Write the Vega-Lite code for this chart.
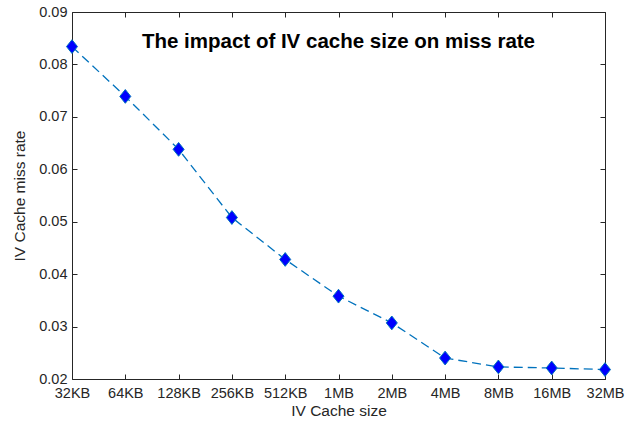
{
  "$schema": "https://vega.github.io/schema/vega-lite/v6.json",
  "width": 533,
  "height": 367,
  "autosize": "none",
  "padding": {"left": 72, "top": 12, "right": 33, "bottom": 42},
  "background": "white",
  "config": {
    "view": {"stroke": null},
    "font": "Liberation Sans",
    "axis": {
      "grid": false,
      "domainColor": "#262626",
      "domainWidth": 1,
      "tickColor": "#262626",
      "tickSize": -5,
      "labelColor": "#262626",
      "labelFont": "Liberation Sans",
      "labelFontSize": 14.5,
      "titleFont": "Liberation Sans",
      "titleFontSize": 15.5,
      "titleFontWeight": "normal",
      "titleColor": "#262626"
    }
  },
  "title": {
    "text": "The impact of IV cache size on miss rate",
    "anchor": "middle",
    "orient": "top",
    "offset": -48,
    "font": "Liberation Sans",
    "fontSize": 20.5,
    "fontWeight": "bold",
    "color": "#000000"
  },
  "data": {
    "values": [
      {"size": "32KB", "rate": 0.0834},
      {"size": "64KB", "rate": 0.0739},
      {"size": "128KB", "rate": 0.0638},
      {"size": "256KB", "rate": 0.0508},
      {"size": "512KB", "rate": 0.0428},
      {"size": "1MB", "rate": 0.0358},
      {"size": "2MB", "rate": 0.0307},
      {"size": "4MB", "rate": 0.0240},
      {"size": "8MB", "rate": 0.0223},
      {"size": "16MB", "rate": 0.0221},
      {"size": "32MB", "rate": 0.0218}
    ]
  },
  "resolve": {"axis": {"x": "independent", "y": "independent"}},
  "layer": [
    {
      "mark": {"type": "line", "color": "#0072BD", "strokeDash": [9, 5], "strokeWidth": 1.3},
      "encoding": {
        "x": {
          "field": "size", "type": "ordinal", "sort": null,
          "scale": {"type": "point", "padding": 0},
          "axis": {"title": "IV Cache size", "labelAngle": 0, "labelPadding": 12, "titlePadding": 4}
        },
        "y": {
          "field": "rate", "type": "quantitative",
          "scale": {"domain": [0.02, 0.09], "nice": false, "zero": false},
          "axis": {"title": "IV Cache miss rate", "values": [0.02, 0.03, 0.04, 0.05, 0.06, 0.07, 0.08, 0.09], "format": ".2f", "labelPadding": 10, "titlePadding": 11}
        }
      }
    },
    {
      "mark": {"type": "point", "shape": "M0,-1L0.8,0L0,1L-0.8,0Z", "filled": true, "fill": "#0000FF", "stroke": "#0072BD", "strokeWidth": 1, "size": 190, "opacity": 1},
      "encoding": {
        "x": {"field": "size", "type": "ordinal", "sort": null, "axis": {"orient": "top", "labels": false, "title": null}},
        "y": {"field": "rate", "type": "quantitative", "axis": {"orient": "right", "labels": false, "title": null, "values": [0.02, 0.03, 0.04, 0.05, 0.06, 0.07, 0.08, 0.09]}}
      }
    }
  ]
}
